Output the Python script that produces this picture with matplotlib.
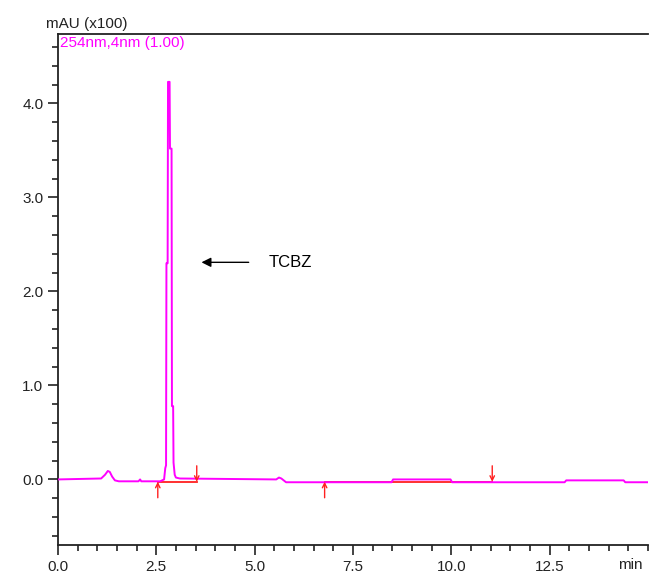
import numpy as np
import matplotlib.pyplot as plt
from matplotlib.ticker import MultipleLocator, FixedLocator

# chromatogram trace, 254 nm (values in mAU x100)
t_min = [0.00, 1.10, 1.20, 1.27, 1.32, 1.38, 1.45, 1.55, 2.05, 2.09, 2.12, 2.60,
         2.70, 2.73, 2.75, 2.76, 2.79, 2.80, 2.84, 2.85, 2.89, 2.90, 2.93, 2.94,
         2.97, 3.00, 3.10, 5.55, 5.62, 5.68, 5.80, 8.48, 8.52, 9.98, 10.02,
         12.88, 12.92, 14.38, 14.42, 15.00]
signal = [0.00, 0.01, 0.05, 0.09, 0.08, 0.03, -0.01, -0.02, -0.02, 0.00, -0.02, -0.02,
          0.00, 0.12, 0.15, 2.30, 2.30, 4.23, 4.23, 3.52, 3.52, 0.78, 0.78, 0.18,
          0.05, 0.02, 0.01, 0.00, 0.02, 0.01, -0.03, -0.03, 0.00, 0.00, -0.03,
          -0.03, -0.01, -0.01, -0.03, -0.03]

# integration baselines (start, end) and level
base_start = [2.54, 6.78]
base_end = [3.53, 11.04]
base_level = -0.025

peak_label = "TCBZ"
peak_arrow_from = (4.85, 2.31)
peak_arrow_to = (3.65, 2.31)

plt.rcParams['font.family'] = ['Liberation Sans', 'DejaVu Sans']

fig = plt.figure(figsize=(6.5, 5.85), dpi=100)
ax = fig.add_axes([0.089, 0.068, 0.908, 0.874])

ax.plot(t_min, signal, color='#ff00ff', lw=1.4, zorder=3)

for s, e in zip(base_start, base_end):
    ax.plot([s, e], [base_level, base_level], color='#ff2020', lw=1.3, zorder=2)
    # start marker: arrow pointing up from below
    ax.annotate('', xy=(s, base_level), xytext=(s, base_level - 0.17),
                arrowprops=dict(arrowstyle='->', color='#ff2020', lw=1.0,
                                shrinkA=0, shrinkB=0, mutation_scale=8))
    # end marker: arrow pointing down from above
    ax.annotate('', xy=(e, base_level), xytext=(e, base_level + 0.17),
                arrowprops=dict(arrowstyle='->', color='#ff2020', lw=1.0,
                                shrinkA=0, shrinkB=0, mutation_scale=8))

ax.annotate('', xy=peak_arrow_to, xytext=peak_arrow_from,
            arrowprops=dict(arrowstyle='-|>', color='black', lw=1.0,
                            shrinkA=0, shrinkB=0, mutation_scale=14))
ax.text(5.35, peak_arrow_from[1], peak_label, fontsize=12, va='center', ha='left')

ax.set_xlim(0, 15.0)
ax.set_ylim(-0.70, 4.74)

ax.xaxis.set_major_locator(FixedLocator([0, 2.5, 5.0, 7.5, 10.0, 12.5]))
ax.xaxis.set_minor_locator(MultipleLocator(0.5))
ax.yaxis.set_major_locator(MultipleLocator(1.0))
ax.yaxis.set_minor_locator(MultipleLocator(0.2))
ax.xaxis.set_major_formatter(plt.FuncFormatter(lambda v, p: f"{v:.1f}"))
ax.yaxis.set_major_formatter(plt.FuncFormatter(lambda v, p: f"{v:.1f}"))

ax.tick_params(which='major', direction='out', length=7, width=1.2,
               labelsize=11, colors='#222222')
ax.tick_params(which='minor', direction='out', length=4, width=1.2, colors='#222222')

for side in ['left', 'bottom', 'top']:
    ax.spines[side].set_linewidth(1.3)
    ax.spines[side].set_color('#222222')
ax.spines['right'].set_visible(False)

ax.text(-0.02, 1.005, "mAU (x100)", transform=ax.transAxes, fontsize=11,
        ha='left', va='bottom', color='#222222')
ax.text(0.003, 0.995, "254nm,4nm (1.00)", transform=ax.transAxes, fontsize=11,
        ha='left', va='top', color='#ff00ff')
ax.text(0.97, -0.025, "min", transform=ax.transAxes, fontsize=11,
        ha='center', va='top', color='#222222')

fig.savefig('out.png', dpi=100)
